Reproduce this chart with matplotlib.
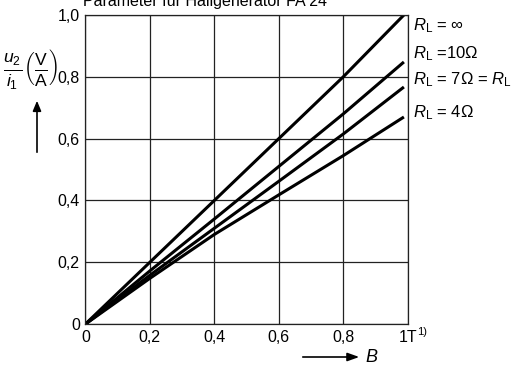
import numpy as np
import matplotlib
matplotlib.use('Agg')
import matplotlib.pyplot as plt

plt.rcParams['font.family'] = ['Liberation Sans', 'DejaVu Sans']
plt.rcParams['mathtext.fontset'] = 'custom'
plt.rcParams['mathtext.rm'] = 'Liberation Sans'
plt.rcParams['mathtext.it'] = 'Liberation Sans:italic'
plt.rcParams['mathtext.bf'] = 'Liberation Sans:bold'

# magnetic flux density B (T) and u2/i1 (V/A) per load resistance
B = [0.0, 0.2, 0.4, 0.6, 0.8, 0.988]
r_inf = [0.0, 0.2, 0.4, 0.6, 0.8, 1.0]
r_10 = [0.0, 0.172, 0.34, 0.51, 0.68, 0.848]
r_7 = [0.0, 0.158, 0.31, 0.462, 0.615, 0.767]
r_4 = [0.0, 0.148, 0.29, 0.418, 0.545, 0.67]

curve_labels = [r'$R_{\mathrm{L}}$ = $\infty$', r'$R_{\mathrm{L}}$ =10$\Omega$',
                r'$R_{\mathrm{L}}$ = 7$\Omega$ = $R_{\mathrm{LL}}$', r'$R_{\mathrm{L}}$ = 4$\Omega$']
x_ticks = [0, 0.2, 0.4, 0.6, 0.8, 1.0]
x_ticklabels = ['0', '0,2', '0,4', '0,6', '0,8', '1T']
y_ticks = [0, 0.2, 0.4, 0.6, 0.8, 1.0]
y_ticklabels = ['0', '0,2', '0,4', '0,6', '0,8', '1,0']

fig = plt.figure(figsize=(5.11, 3.65), dpi=100)
ax = fig.add_axes([0.167, 0.112, 0.631, 0.847])

for ys in (r_inf, r_10, r_7, r_4):
    ax.plot(B, ys, color='black', linewidth=2.2, solid_capstyle='butt')

ax.set_xlim(0, 1)
ax.set_ylim(0, 1)
ax.set_xticks(x_ticks)
ax.set_xticklabels(x_ticklabels, fontsize=11.5)
ax.set_yticks(y_ticks)
ax.set_yticklabels(y_ticklabels, fontsize=11.5)
ax.tick_params(length=0, pad=4)
ax.grid(True, color='#222222', linewidth=0.9)
for s in ax.spines.values():
    s.set_color('#222222')
    s.set_linewidth(0.9)

ax.text(1.03, -0.008, '1)', transform=ax.transAxes, fontsize=8, va='top', ha='left')

# curve labels on the right
label_y = [0.965, 0.875, 0.79, 0.685]
for lbl, yy in zip(curve_labels, label_y):
    ax.text(1.015, yy, lbl, transform=ax.transAxes, fontsize=12, va='center', ha='left',
            clip_on=False)

# title, partly cut at the top
fig.text(0.163, 0.995, 'Parameter für Hallgenerator FA 24', fontsize=11.5,
         va='center', ha='left')

# y label with arrow
fig.text(0.005, 1 - 70 / 365, r'$\frac{u_2}{i_1}\left(\frac{\mathrm{V}}{\mathrm{A}}\right)$',
         fontsize=18, va='center', ha='left')
fig.add_artist(matplotlib.patches.FancyArrowPatch(
    (37 / 511, 1 - 155 / 365), (37 / 511, 1 - 98 / 365), transform=fig.transFigure,
    arrowstyle='-|>,head_length=6,head_width=2.5', color='black', linewidth=1.2))

# x label with arrow
fig.add_artist(matplotlib.patches.FancyArrowPatch(
    (300 / 511, 1 - 357 / 365), (362 / 511, 1 - 357 / 365), transform=fig.transFigure,
    arrowstyle='-|>,head_length=7,head_width=2.5', color='black', linewidth=1.2))
fig.text(365 / 511, 1 - 357 / 365, r'$B$', fontsize=13, va='center', ha='left')

fig.savefig('out.png', dpi=100)
